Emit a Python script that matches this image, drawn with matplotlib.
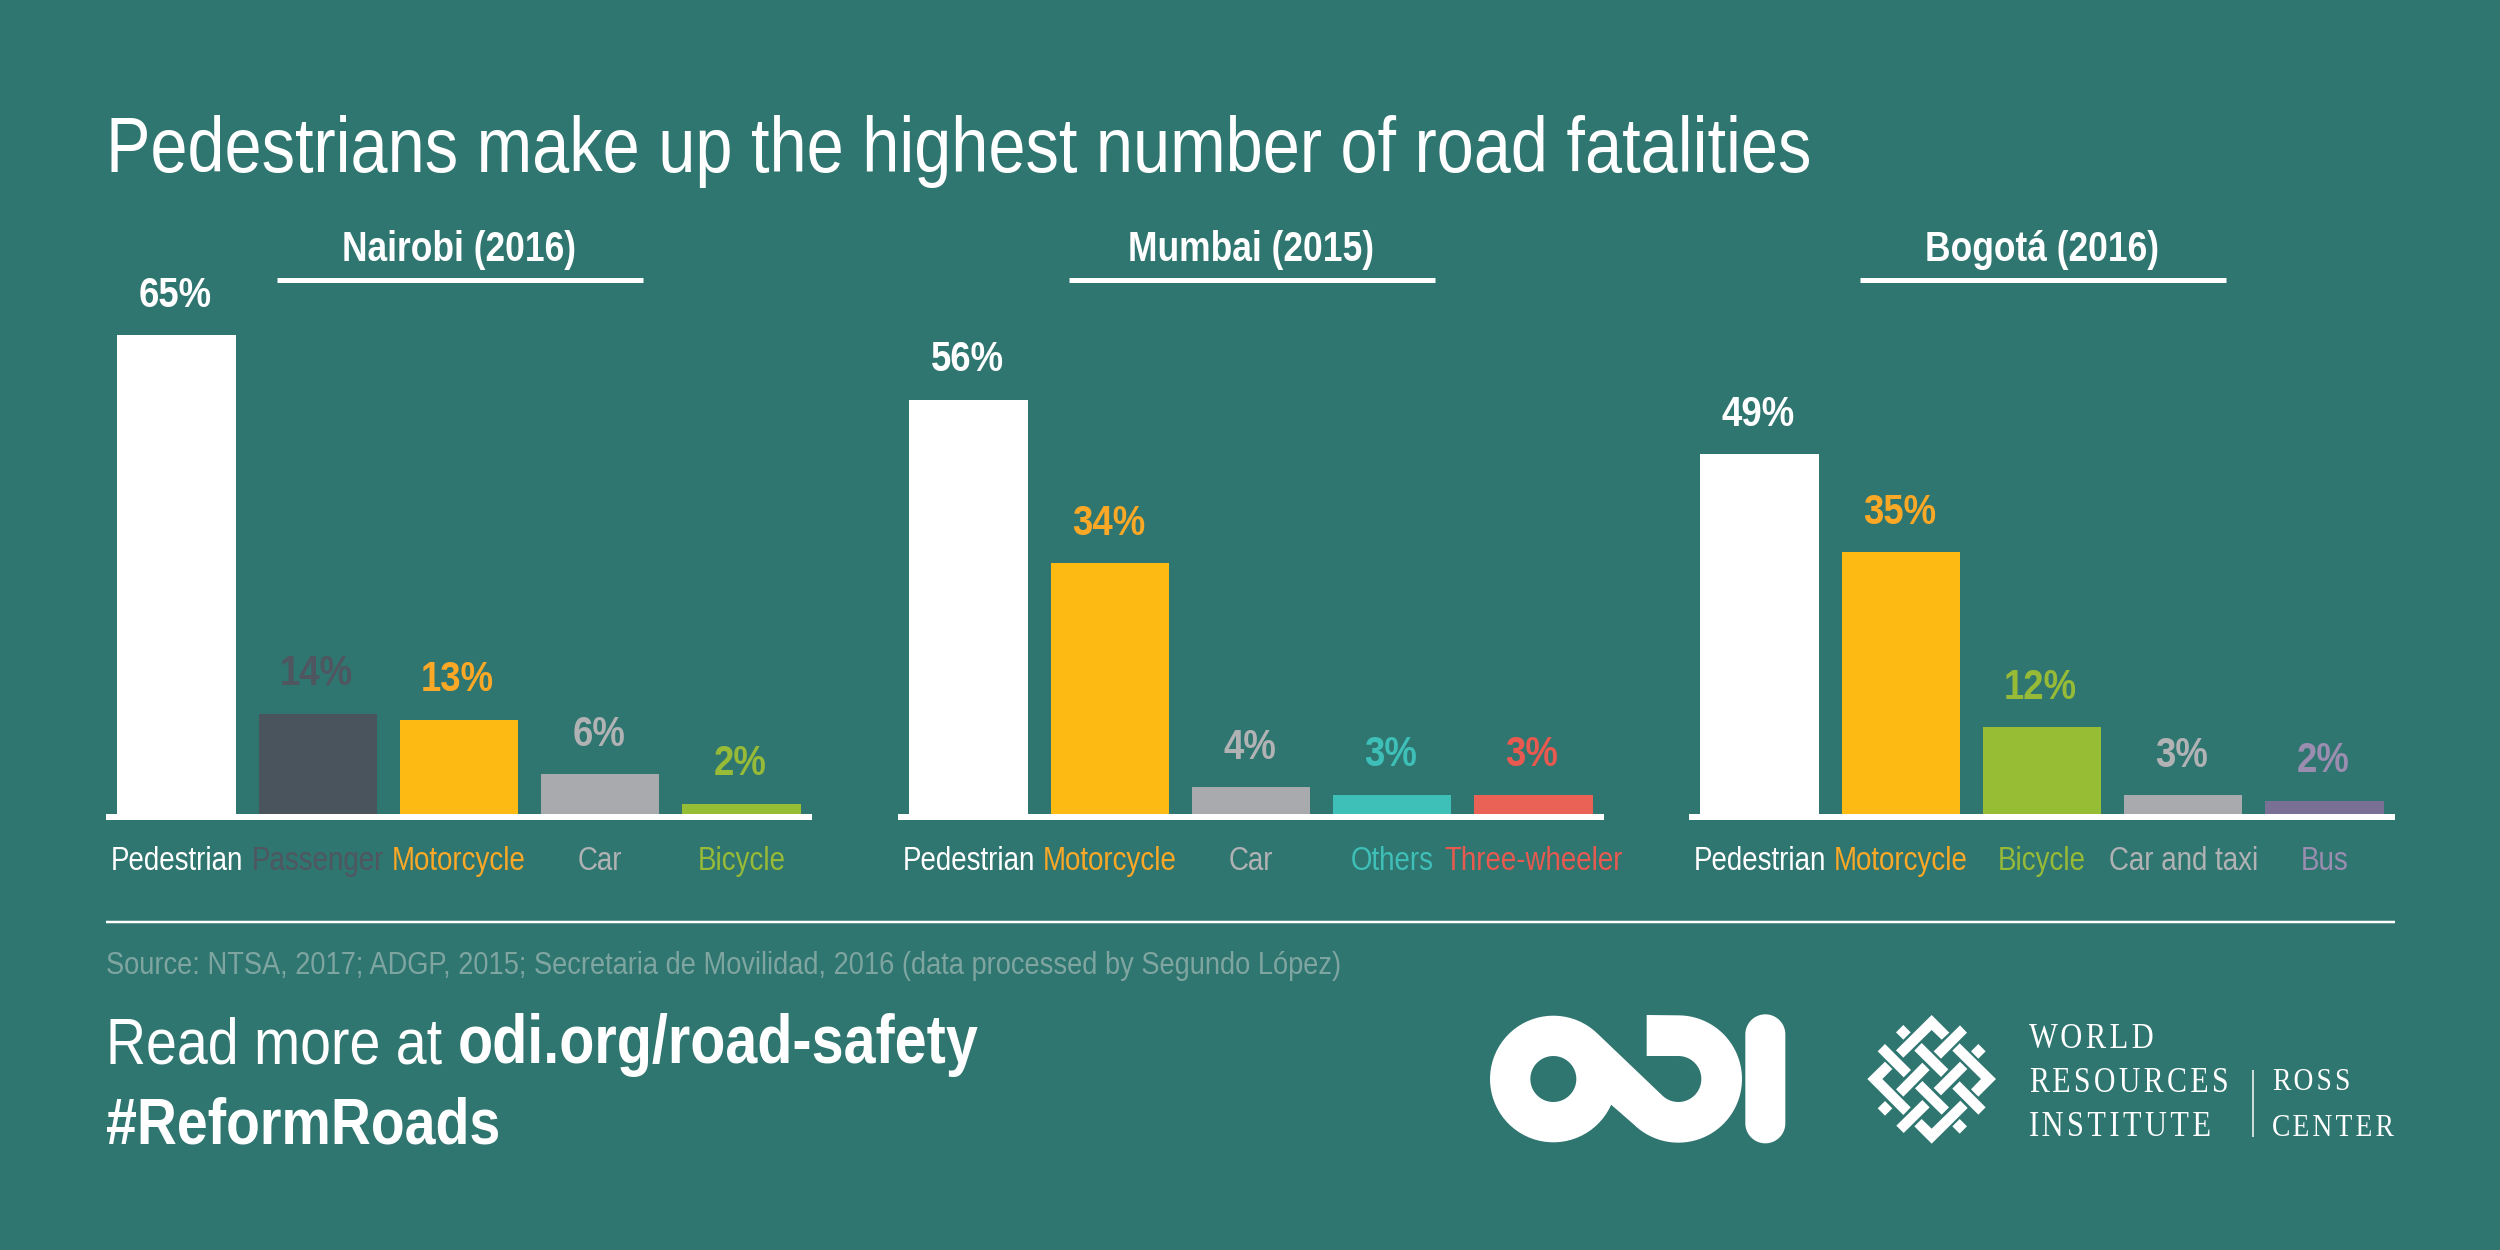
import os
import tempfile
import numpy as np
import matplotlib
matplotlib.use("Agg")
import matplotlib.pyplot as plt
from matplotlib import font_manager as fm
from matplotlib.path import Path
from matplotlib.patches import PathPatch, Polygon
from fontTools.ttLib import TTFont

# ---------- data ----------
title_text = "Pedestrians make up the highest number of road fatalities"
panel_titles = ["Nairobi (2016)", "Mumbai (2015)", "Bogotá (2016)"]

nairobi_labels = ["Pedestrian", "Passenger", "Motorcycle", "Car", "Bicycle"]
nairobi_pct = [65, 14, 13, 6, 2]
nairobi_heights = [65, 13.9, 13.1, 5.8, 1.8]
mumbai_labels = ["Pedestrian", "Motorcycle", "Car", "Others", "Three-wheeler"]
mumbai_pct = [56, 34, 4, 3, 3]
mumbai_heights = [56.3, 34.2, 4, 3, 3]
bogota_labels = ["Pedestrian", "Motorcycle", "Bicycle", "Car and taxi", "Bus"]
bogota_pct = [49, 35, 12, 3, 2]
bogota_heights = [48.9, 35.7, 12.1, 2.9, 2.2]

bar_colors = {"Pedestrian": "#FFFFFF", "Passenger": "#4A545C", "Motorcycle": "#FDBA12",
              "Car": "#A9AAAD", "Car and taxi": "#A9AAAD", "Bicycle": "#96BD33",
              "Others": "#3EC0B8", "Three-wheeler": "#EA6156", "Bus": "#7A6F95"}
text_colors = {"Pedestrian": "#FFFFFF", "Passenger": "#4F5660", "Motorcycle": "#FBA826",
               "Car": "#B1B2B4", "Car and taxi": "#B1B2B4", "Bicycle": "#97BA37",
               "Others": "#3EC0B8", "Three-wheeler": "#E8594F", "Bus": "#9A8DB0"}

source_text = "Source: NTSA, 2017; ADGP, 2015; Secretaria de Movilidad, 2016 (data processed by Segundo López)"


# ---------- condensed / tracked fonts derived from the installed families ----------
def derive_font(base_family, weight, new_family, xscale, tracking=0):
    src = fm.findfont(fm.FontProperties(family=base_family, weight=weight))
    font = TTFont(src)
    for tag in ("fpgm", "prep", "cvt ", "hdmx", "VDMX", "LTSH", "GPOS", "GSUB", "GDEF", "gasp"):
        if tag in font:
            del font[tag]
    glyf = font["glyf"]
    hmtx = font["hmtx"]
    for gname in font.getGlyphOrder():
        g = glyf[gname]
        if g.isComposite():
            for comp in g.components:
                comp.x = int(round(comp.x * xscale))
        elif g.numberOfContours > 0:
            g.coordinates.scale((xscale, 1))
            g.coordinates.toInt()
        if hasattr(g, "removeHinting"):
            g.removeHinting()
        adv, lsb = hmtx[gname]
        hmtx[gname] = (int(round(adv * xscale)) + tracking, int(round(lsb * xscale)))
    if "kern" in font:
        for t in font["kern"].kernTables:
            t.kernTable = {k: int(round(v * xscale)) for k, v in t.kernTable.items()}
    sub = "Bold" if weight == "bold" else "Regular"
    for rec in font["name"].names:
        if rec.nameID in (1, 16):
            rec.string = new_family
        elif rec.nameID == 4:
            rec.string = f"{new_family} {sub}"
        elif rec.nameID == 6:
            rec.string = f"{new_family.replace(' ', '')}-{sub}"
    out = os.path.join(tempfile.mkdtemp(), f"{new_family.replace(' ', '')}-{sub}.ttf")
    font.save(out)
    fm.fontManager.addfont(out)


derive_font("Liberation Sans", "normal", "Ref Narrow", 0.85)
derive_font("Liberation Sans", "bold", "Ref Narrow", 0.85)
derive_font("Liberation Serif", "normal", "Ref Spaced Serif", 0.86, 200)

# ---------- style ----------
BG = "#2F7570"
W, H = 2500, 1250
plt.rcParams["font.family"] = ["Ref Narrow", "Liberation Sans", "DejaVu Sans"]

fig = plt.figure(figsize=(W / 100, H / 100), dpi=100, facecolor=BG)

overlay = fig.add_axes([0, 0, 1, 1], zorder=5)
overlay.set_xlim(0, W)
overlay.set_ylim(H, 0)
overlay.axis("off")
overlay.patch.set_alpha(0)

PX = 0.72  # points per pixel

# ---------- panels ----------
panel_left = [106, 898, 1689]
panel_w = 706
base_y = 817
y_top = 70
px_per_unit = 7.415
panels = [(nairobi_labels, nairobi_pct, nairobi_heights),
          (mumbai_labels, mumbai_pct, mumbai_heights),
          (bogota_labels, bogota_pct, bogota_heights)]

for left, (labels, pct, heights), name in zip(panel_left, panels, panel_titles):
    ax_h = y_top * px_per_unit
    ax = fig.add_axes([left / W, (H - base_y) / H, panel_w / W, ax_h / H])
    ax.patch.set_alpha(0)
    xs = np.arange(len(labels))
    ax.bar(xs, heights, width=0.838, color=[bar_colors[c] for c in labels], linewidth=0)
    ax.set_xlim(-0.5, len(labels) - 0.5)
    ax.set_ylim(0, y_top)
    for s in ("top", "left", "right"):
        ax.spines[s].set_visible(False)
    ax.spines["bottom"].set_color("white")
    ax.spines["bottom"].set_linewidth(6 * PX)
    ax.spines["bottom"].set_capstyle("butt")
    ax.yaxis.set_visible(False)
    ax.set_xticks(xs, labels)
    ax.tick_params(axis="x", length=0, pad=20.8, labelsize=23.5)
    for tl, c in zip(ax.get_xticklabels(), labels):
        tl.set_color(text_colors[c])
    for x, h, p, c in zip(xs, heights, pct, labels):
        ax.annotate(f"{p}%", (x, h), xytext=(-1, 20.5), textcoords="offset points",
                    ha="center", va="baseline", fontsize=31, fontweight="bold",
                    color=text_colors[c])
    # panel heading with rule
    cx = left + 354
    overlay.plot([cx - 183, cx + 183], [280, 280], color="white", lw=5 * PX, solid_capstyle="butt")
    overlay.text(cx - 1, 261.5, name, ha="center", va="baseline", fontsize=30,
                 fontweight="bold", color="white")

# ---------- headline and footer text ----------
overlay.text(106, 172, title_text, ha="left", va="baseline", fontsize=56.4, color="white")
overlay.plot([106, 2395], [922, 922], color="white", lw=2.5 * PX, solid_capstyle="butt")
overlay.text(106, 974, source_text, ha="left", va="baseline", fontsize=23, color="#7FA5A1")
overlay.text(106, 1063, "Read more at ", ha="left", va="baseline", fontsize=47, color="white")
overlay.text(458, 1063, "odi.org/road-safety", ha="left", va="baseline", fontsize=48.7,
             fontweight="bold", color="white")
overlay.text(106, 1143, "#ReformRoads", ha="left", va="baseline", fontsize=47,
             fontweight="bold", color="white")


# ---------- logos (decoration) ----------
def arc(cx, cy, r, a0, a1, n=60):
    t = np.radians(np.linspace(a0, a1, n))
    return np.column_stack([cx + r * np.cos(t), cy + r * np.sin(t)])


def odi(x):
    return np.column_stack([1480 + x[:, 0] / 3, 1005 + x[:, 1] / 3])


# screen angles: y grows downward, so increasing angle runs clockwise on screen
band = np.vstack([
    [[500, 30]],
    arc(595, 222, 191, -90, 135),
    arc(220, 222, 190, 24, 315),
    arc(595, 222, 69, 135, -90),
    [[500, 153]],
])
hole = arc(220, 222, 69, 360, 0)
verts = np.vstack([odi(band), odi(band[:1]), odi(hole), odi(hole[:1])])
codes = ([Path.MOVETO] + [Path.LINETO] * len(band) +
         [Path.MOVETO] + [Path.LINETO] * len(hole))
overlay.add_patch(PathPatch(Path(verts, codes), fc="white", ec="none"))
pill = np.vstack([arc(856, 88, 60, 180, 360), arc(856, 355, 60, 0, 180)])
overlay.add_patch(Polygon(odi(pill), closed=True, fc="white", ec="none"))

wri_shapes = [
    [(215, 30), (268, 83), (245, 104), (215, 75), (130, 158), (108, 136)],
    [(130, 60), (152, 82), (130, 104), (108, 82)],
    [(300, 61), (321, 83), (243, 161), (221, 139)],
    [(75, 117), (153, 195), (131, 217), (53, 139)],
    [(185, 114), (265, 193), (243, 216), (163, 137)],
    [(299, 115), (408, 222), (355, 275), (333, 253), (363, 222), (277, 137)],
    [(355, 117), (377, 139), (355, 161), (333, 139)],
    [(75, 170), (97, 192), (67, 222), (152, 307), (130, 330), (22, 222)],
    [(187, 173), (209, 195), (130, 275), (108, 253)],
    [(300, 170), (322, 192), (243, 271), (221, 249)],
    [(187, 228), (267, 307), (245, 329), (165, 250)],
    [(299, 229), (377, 307), (355, 329), (277, 251)],
    [(75, 288), (97, 310), (75, 332), (53, 310)],
    [(187, 285), (209, 307), (131, 384), (109, 362)],
    [(301, 287), (323, 309), (215, 416), (163, 364), (185, 342), (215, 371)],
    [(299, 342), (321, 364), (299, 386), (277, 364)],
]
for shp in wri_shapes:
    p = np.array(shp, dtype=float)
    overlay.add_patch(Polygon(np.column_stack([1860 + p[:, 0] / 3, 1005 + p[:, 1] / 3]),
                              closed=True, fc="white", ec="none"))

for txt, x, y, fs in [("WORLD", 2029, 1047.5, 25.5), ("RESOURCES", 2029, 1091.5, 25),
                      ("INSTITUTE", 2029, 1135.5, 25.5),
                      ("ROSS", 2272, 1089.5, 23), ("CENTER", 2272, 1135.5, 23)]:
    overlay.text(x, y, txt, ha="left", va="baseline", fontsize=fs, color="white",
                 family=["Ref Spaced Serif", "Liberation Serif"])
overlay.plot([2253, 2253], [1070, 1137], color="white", lw=1.5 * PX, solid_capstyle="butt")

fig.savefig("out.png", dpi=100, facecolor=BG)
